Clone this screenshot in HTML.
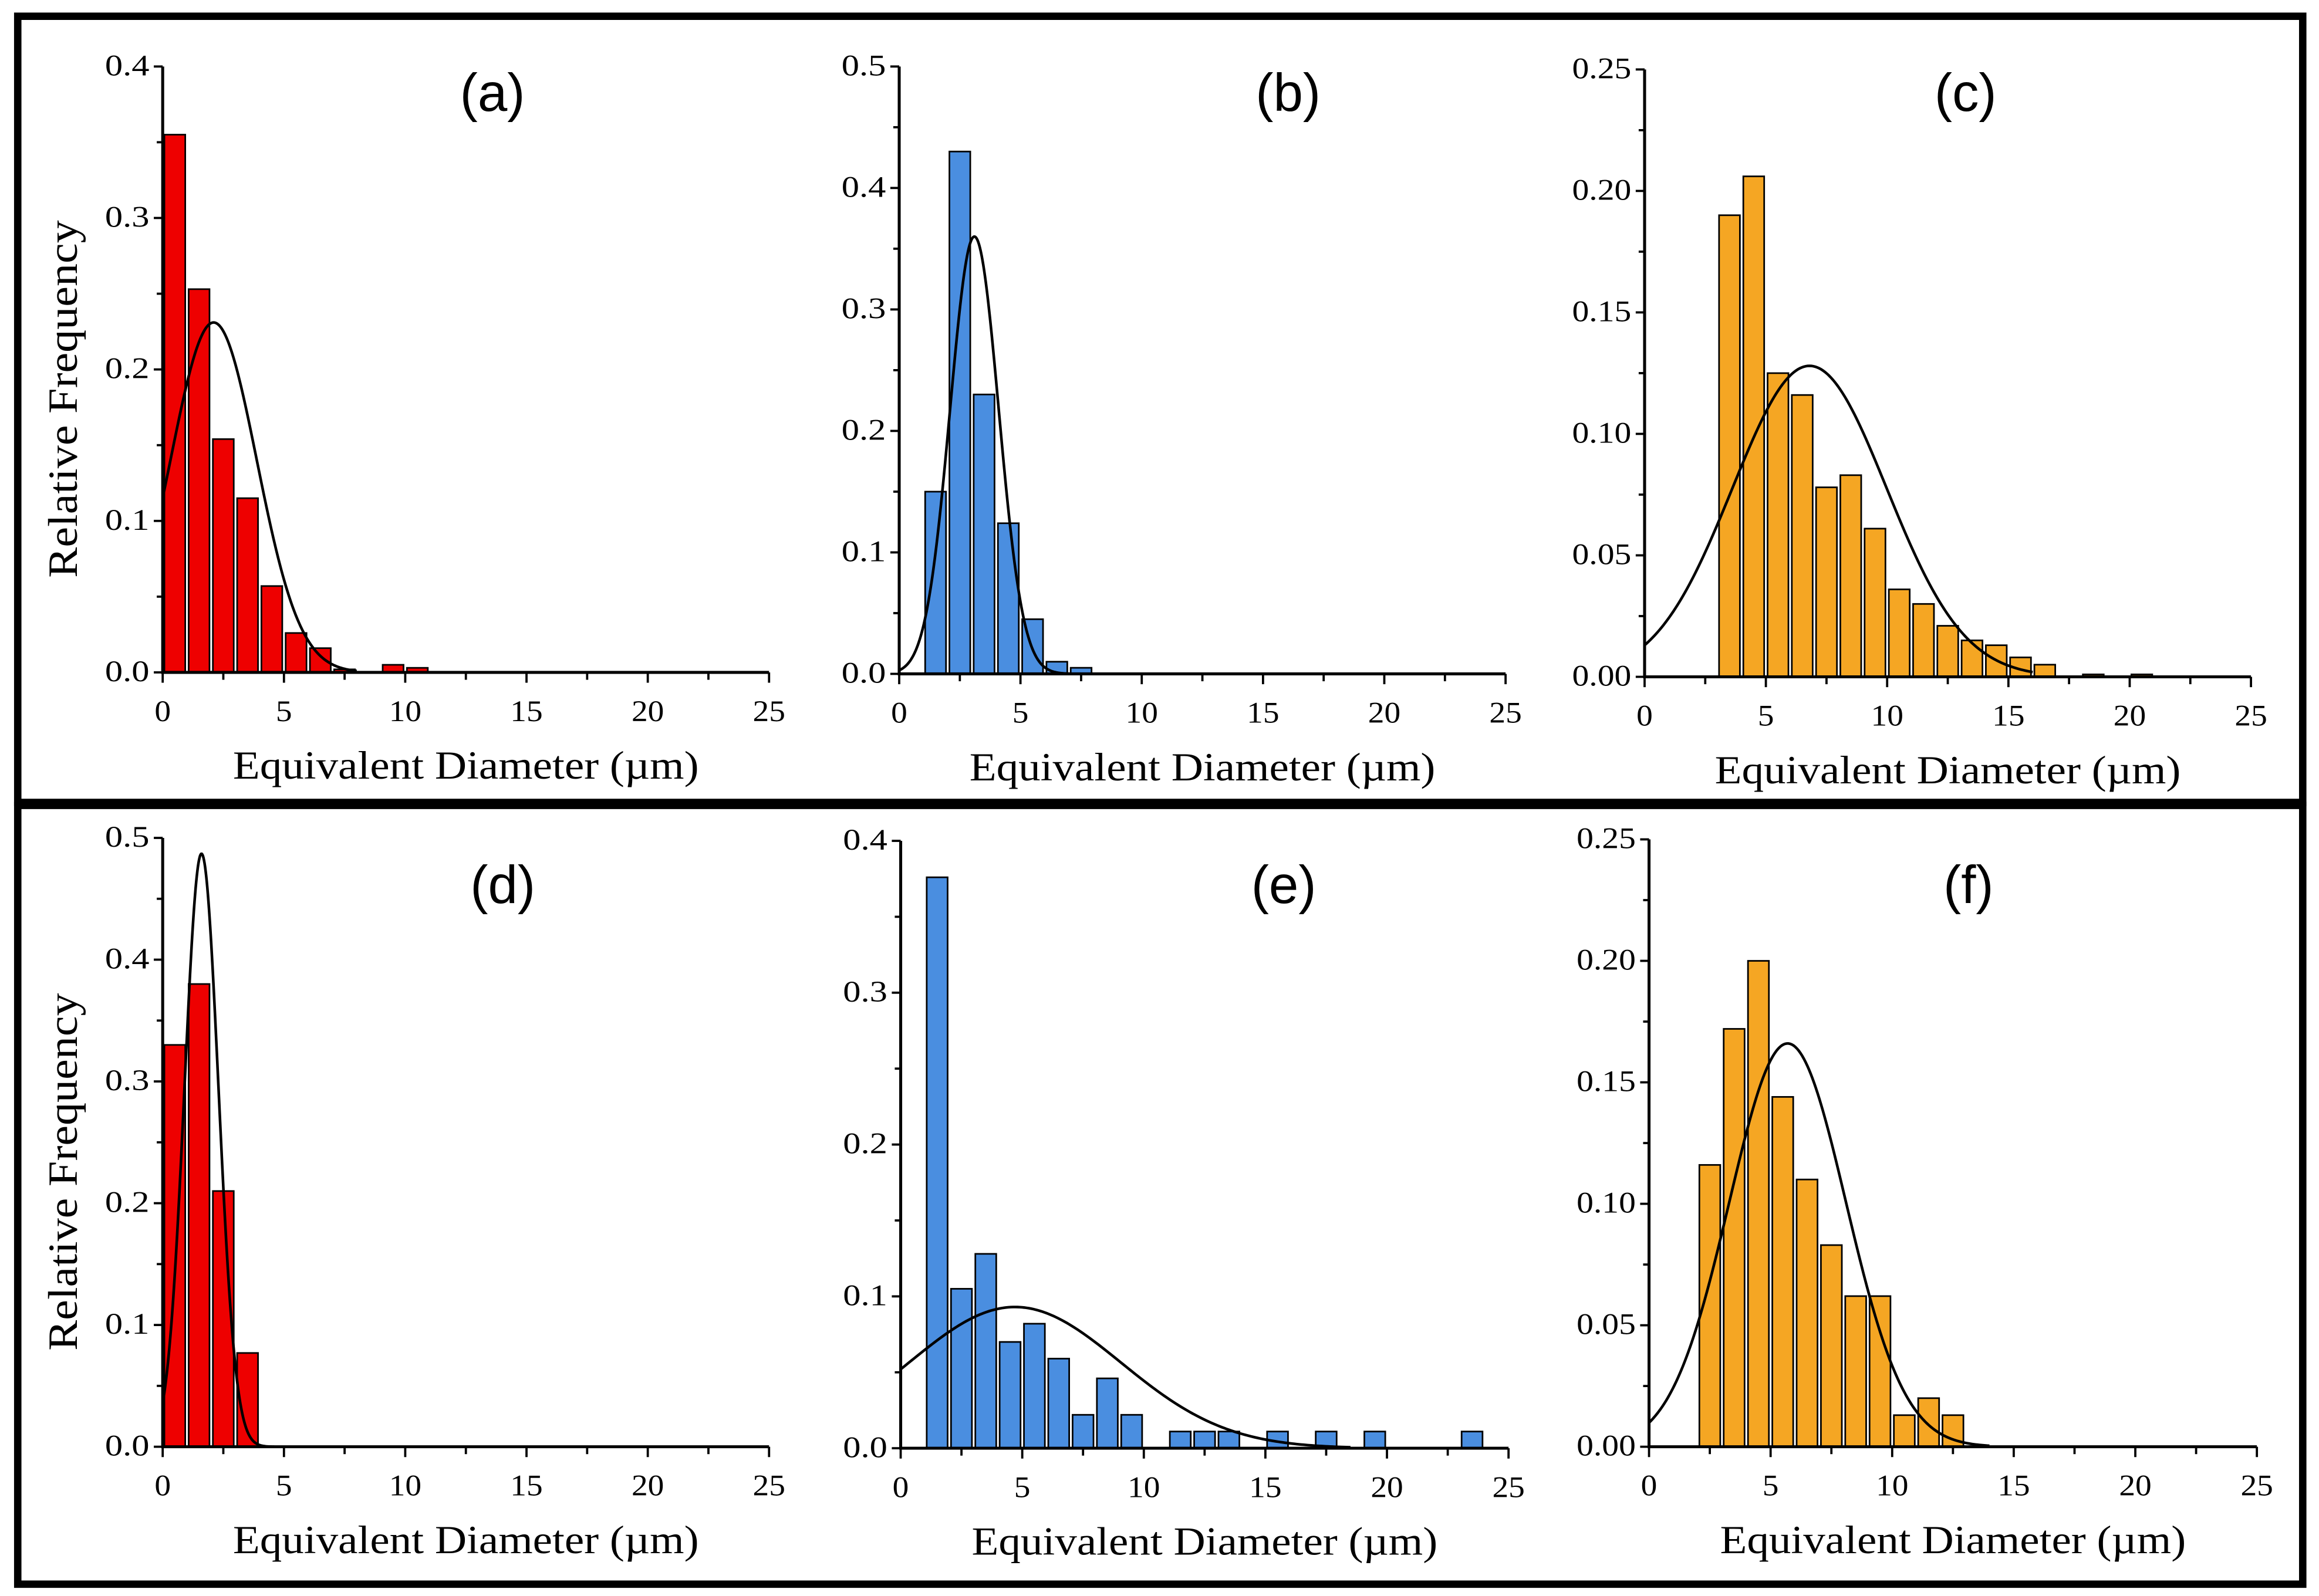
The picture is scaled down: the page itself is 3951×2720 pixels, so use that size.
<!DOCTYPE html>
<html><head><meta charset="utf-8"><style>
html,body{margin:0;padding:0;background:#fff;}
svg{display:block;}
</style></head><body>
<svg id="fig" width="3951" height="2720" viewBox="0 0 1568 1080" preserveAspectRatio="none" xmlns="http://www.w3.org/2000/svg">
<rect x="0" y="0" width="1568" height="1080" fill="#fff"/>
<rect x="12" y="11" width="1545" height="532" fill="none" stroke="#000" stroke-width="5"/>
<rect x="12" y="545" width="1545" height="527" fill="none" stroke="#000" stroke-width="5"/>
</svg>
<script>
// Panel data arrays (bin centers in µm, relative frequency)
const centersA = [0.5,1.5,2.5,3.5,4.5,5.5,6.5,7.5,9.5,10.5];
const valuesA  = [0.355,0.253,0.154,0.115,0.057,0.026,0.016,0.002,0.005,0.003];
const fitA = [0.231,2.1,1.78,8];           // peak, mean, sigma, xmax
const centersB = [1.5,2.5,3.5,4.5,5.5,6.5,7.5];
const valuesB  = [0.15,0.43,0.23,0.124,0.045,0.01,0.005];
const fitB = [0.36,3.1,1.0,7];
const centersC = [3.5,4.5,5.5,6.5,7.5,8.5,9.5,10.5,11.5,12.5,13.5,14.5,15.5,16.5,18.5,20.5];
const valuesC  = [0.19,0.206,0.125,0.116,0.078,0.083,0.061,0.036,0.030,0.021,0.015,0.013,0.008,0.005,0.001,0.001];
const fitC = [0.128,6.8,3.18,16];
const centersD = [0.5,1.5,2.5,3.5];
const valuesD  = [0.33,0.38,0.21,0.077];
const fitD = [0.487,1.6,0.7,4.6];
const centersE = [1.5,2.5,3.5,4.5,5.5,6.5,7.5,8.5,9.5,11.5,12.5,13.5,15.5,17.5,19.5,23.5];
const valuesE  = [0.376,0.105,0.128,0.07,0.082,0.059,0.022,0.046,0.022,0.011,0.011,0.011,0.011,0.011,0.011,0.011];
const fitE = [0.093,4.7,4.36,18.5];
const centersF = [2.5,3.5,4.5,5.5,6.5,7.5,8.5,9.5,10.5,11.5,12.5];
const valuesF  = [0.116,0.172,0.2,0.144,0.11,0.083,0.062,0.062,0.013,0.02,0.013];
const fitF = [0.166,5.7,2.4,14];
const yTicksAE = ["0.0","0.1","0.2","0.3","0.4"];
const yTicksBD = ["0.0","0.1","0.2","0.3","0.4","0.5"];
const yTicksCF = ["0.00","0.05","0.10","0.15","0.20","0.25"];
const xTicks = ["0","5","10","15","20","25"];

const NS="http://www.w3.org/2000/svg";
const svg=document.getElementById('fig');
function mk(tag,attrs,parent){const e=document.createElementNS(NS,tag);for(const k in attrs)e.setAttribute(k,attrs[k]);(parent||svg).appendChild(e);return e;}

const panels=[
 {id:'a',x0:110,x1:520,y0:455,y1:45,ymax:0.4,yt:yTicksAE,c:centersA,v:valuesA,fit:fitA,col:'#ee0000',ylab:true,ly:62,lx:333},
 {id:'b',x0:608,x1:1018,y0:456,y1:45,ymax:0.5,yt:yTicksBD,c:centersB,v:valuesB,fit:fitB,col:'#4a8ee0',ylab:false,ly:62,lx:871},
 {id:'c',x0:1112,x1:1522,y0:458,y1:47,ymax:0.25,yt:yTicksCF,c:centersC,v:valuesC,fit:fitC,col:'#f5a623',ylab:false,ly:62,lx:1329},
 {id:'d',x0:110,x1:520,y0:979,y1:567,ymax:0.5,yt:yTicksBD,c:centersD,v:valuesD,fit:fitD,col:'#ee0000',ylab:true,ly:598,lx:340},
 {id:'e',x0:609,x1:1020,y0:980,y1:569,ymax:0.4,yt:yTicksAE,c:centersE,v:valuesE,fit:fitE,col:'#4a8ee0',ylab:false,ly:598,lx:868},
 {id:'f',x0:1115,x1:1526,y0:979,y1:568,ymax:0.25,yt:yTicksCF,c:centersF,v:valuesF,fit:fitF,col:'#f5a623',ylab:false,ly:598,lx:1331}
];

panels.forEach(p=>{
  const g=mk('g',{});
  
  
  const X=x=>p.x0+(x/25)*(p.x1-p.x0);
  const Y=y=>p.y0-(y/p.ymax)*(p.y0-p.y1);
  p.c.forEach((c,i)=>{
    const r=mk('rect',{x:X(c-0.43),y:Y(p.v[i]),width:X(0.86)-X(0),height:p.y0-Y(p.v[i]),fill:p.col,stroke:'#000','stroke-width':1.1},g);
    
    
  });
  const [pk,mu,sg,xm]=p.fit;let d='';
  for(let k=0;k<=200;k++){const x=xm*k/200;const y=pk*Math.exp(-(x-mu)*(x-mu)/(2*sg*sg));d+=(k?'L':'M')+X(x).toFixed(2)+' '+Y(y).toFixed(2);}
  const path=mk('path',{d:d,fill:'none',stroke:'#000','stroke-width':1.8},g);
  
  
  const ax=mk('path',{d:`M${p.x0} ${p.y1} L${p.x0} ${p.y0} L${p.x1} ${p.y0}`,fill:'none',stroke:'#000','stroke-width':2},g);
  
  
  const n=p.yt.length-1;
  for(let i=0;i<=n*2;i++){
    const yv=p.ymax*i/(n*2);const len=(i%2==0)?6:4;
    mk('line',{x1:p.x0-len,x2:p.x0,y1:Y(yv),y2:Y(yv),stroke:'#000','stroke-width':1.5},g);
  }
  p.yt.forEach((t,i)=>{
    const tx=mk('text',{x:p.x0-9,y:Y(p.ymax*i/n)+6,'text-anchor':'end','font-family':'Liberation Serif, serif','font-size':20,textLength:t.length*10,lengthAdjust:'spacingAndGlyphs'},g);
    tx.textContent=t;
    
    
  });
  for(let i=0;i<=10;i++){
    const len=(i%2==0)?7:5;
    mk('line',{x1:X(i*2.5),x2:X(i*2.5),y1:p.y0,y2:p.y0+len,stroke:'#000','stroke-width':1.5},g);
  }
  xTicks.forEach((t,i)=>{
    const tx=mk('text',{x:X(i*5),y:p.y0+33,'text-anchor':'middle','font-family':'Liberation Serif, serif','font-size':20,textLength:t.length*11,lengthAdjust:'spacingAndGlyphs'},g);
    tx.textContent=t;
    
    
  });
  const xt=mk('text',{x:(p.x0+p.x1)/2,y:p.y0+72,'text-anchor':'middle','font-family':'Liberation Serif, serif','font-size':27,textLength:315,lengthAdjust:'spacingAndGlyphs'},g);
  xt.textContent='Equivalent Diameter (\u00b5m)';
  
  
  const lb=mk('text',{x:p.lx,y:p.ly+13,'text-anchor':'middle','font-family':'Liberation Sans, sans-serif','font-size':36},g);
  lb.textContent='('+p.id+')';
  
  
  if(p.ylab){
    const cy=(p.y0+p.y1)/2+20;
    const yl=mk('text',{x:0,y:0,transform:`translate(52 ${cy}) rotate(-90)`,'text-anchor':'middle','font-family':'Liberation Serif, serif','font-size':28,textLength:242,lengthAdjust:'spacingAndGlyphs'},g);
    yl.textContent='Relative Frequency';
    
    
  }
});
</script>
</body></html>
